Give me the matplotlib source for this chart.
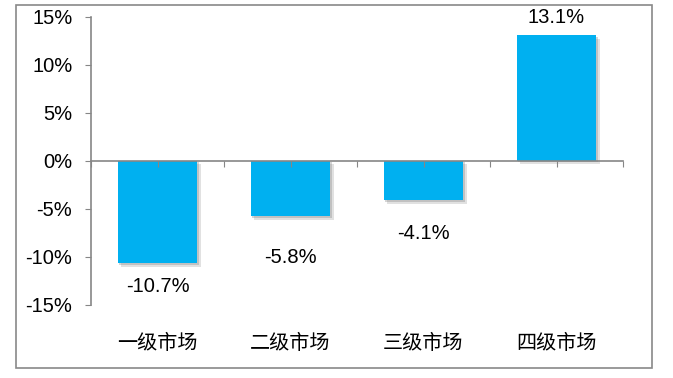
import matplotlib
matplotlib.use("Agg")
import matplotlib.pyplot as plt
import matplotlib.patheffects as pe
from matplotlib.patches import Rectangle
import numpy as np

plt.rcParams['font.family'] = ['Liberation Sans', 'Noto Sans CJK SC', 'DejaVu Sans']

categories = ['一级市场', '二级市场', '三级市场', '四级市场']
values = [-10.7, -5.8, -4.1, 13.1]
labels = ['-10.7%', '-5.8%', '-4.1%', '13.1%']
y_ticks = [-15, -10, -5, 0, 5, 10, 15]
y_tick_labels = ['-15%', '-10%', '-5%', '0%', '5%', '10%', '15%']

# label offsets (points) from bar end, as placed in the original
label_dy = [-16.5, -29.5, -24.3, 12.5]

bar_color = '#00B0F0'
axis_color = '#868686'

fig = plt.figure(figsize=(6.73, 3.78), dpi=100)
ax = fig.add_axes([91 / 673, 1 - 304.5 / 378, (623 - 91) / 673, (304.5 - 17) / 378])

# outer chart border
fig.patches.append(Rectangle((16 / 673, 1 - 368 / 378), (652 - 16) / 673, (368 - 4.7) / 378,
                             transform=fig.transFigure, fill=False, edgecolor='#898989', lw=1.2))

x = np.arange(len(categories))
bars = ax.bar(x, values, width=0.6, color=bar_color, zorder=2)
for b in bars:
    b.set_path_effects([pe.SimplePatchShadow(offset=(2.5, -2.5), shadow_rgbFace='#888888', alpha=0.25),
                        pe.SimplePatchShadow(offset=(1.2, -1.2), shadow_rgbFace='#777777', alpha=0.3),
                        pe.Normal()])

for xi, v, lab, dy in zip(x, values, labels, label_dy):
    ax.annotate(lab, (xi, v), xytext=(0, dy), textcoords='offset points',
                ha='center', va='center', fontsize=14.5, color='black')

for xi, c in zip(x, categories):
    ax.text(xi, -0.136, c, transform=ax.get_xaxis_transform(), ha='center', va='center',
            fontsize=14.5, color='black')

ax.set_xlim(-0.5, len(categories) - 0.5)
ax.set_ylim(-15, 15)
ax.set_yticks(y_ticks)
ax.set_yticklabels(y_tick_labels, fontsize=14.5)
ax.set_xticks(np.arange(-0.5, len(categories), 0.5))
ax.tick_params(axis='x', direction='out', length=4, color=axis_color, labelbottom=False)
ax.tick_params(axis='y', direction='out', length=4.5, color=axis_color, pad=9)

ax.spines['top'].set_visible(False)
ax.spines['right'].set_visible(False)
ax.spines['bottom'].set_position(('data', 0))
ax.spines['bottom'].set_zorder(3)
for s in ['left', 'bottom']:
    ax.spines[s].set_color(axis_color)
    ax.spines[s].set_linewidth(1.2)
ax.xaxis.set_zorder(3)

fig.savefig('out.png', dpi=100)
